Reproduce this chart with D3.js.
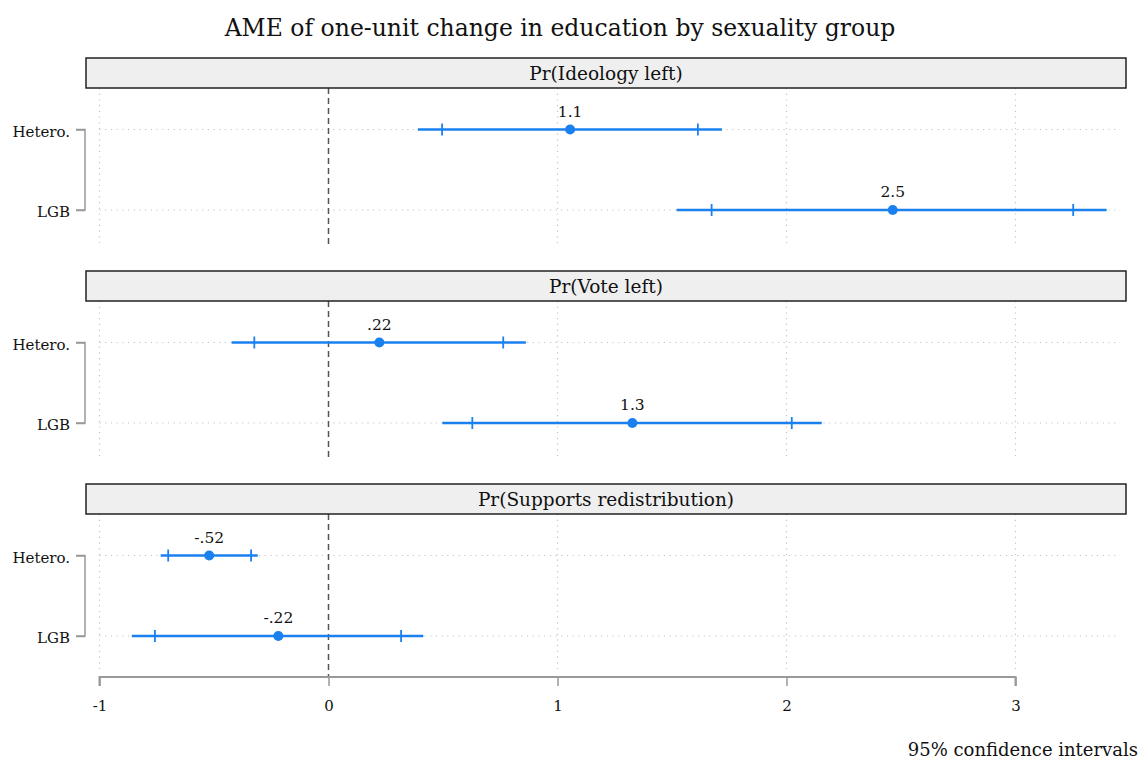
<!DOCTYPE html>
<html>
<head>
<meta charset="utf-8">
<script src="https://cdn.jsdelivr.net/npm/d3@7"></script>
<style>
  html, body { margin: 0; padding: 0; background: #fff; }
  svg { display: block; font-family: "DejaVu Serif", serif; }
</style>
</head>
<body>
<svg id="chart" width="1142" height="760"></svg>
<script>
// Average marginal effects of education, by outcome and sexuality group
const outcomes = ["Pr(Ideology left)", "Pr(Vote left)", "Pr(Supports redistribution)"];
const groups = ["Hetero.", "LGB"];
const estimates = [[1.055, 2.464], [0.222, 1.327], [-0.521, -0.219]];
const ci95Lo = [[0.390, 1.520], [-0.423, 0.497], [-0.733, -0.859]];
const ci95Hi = [[1.718, 3.398], [0.862, 2.154], [-0.309, 0.414]];
const ci90Lo = [[0.496, 1.673], [-0.324, 0.628], [-0.700, -0.758]];
const ci90Hi = [[1.613, 3.252], [0.763, 2.023], [-0.338, 0.317]];
const xTicks = [-1, 0, 1, 2, 3];

const title = "AME of one-unit change in education by sexuality group";
const note = "95% confidence intervals";

const blue = "#1a80f0";
const svg = d3.select("#chart");

const x = d3.scaleLinear().domain([-1, 3]).range([99.5, 1015.5]);

// plain hyphen-minus for negative numbers
const locale = d3.formatLocale({ decimal: ".", thousands: ",", grouping: [3], currency: ["", ""], minus: "-" });
// Stata-style number label: two significant digits, no leading zero
const fmt = v => locale.format(".2r")(v).replace(/^(-?)0\./, "$1.");

svg.append("text")
  .attr("x", 560).attr("y", 36)
  .attr("text-anchor", "middle")
  .attr("font-size", 23.5)
  .attr("fill", "#111")
  .text(title);

const panelTop = 58, panelStep = 213, stripH = 30;
const stripX0 = 86, stripX1 = 1126;
const plotH = 157;

outcomes.forEach((name, i) => {
  const top = panelTop + panelStep * i;
  const g = svg.append("g");
  const y = d3.scalePoint().domain(groups).range([top + 71.5, top + 152]);
  const plotTop = top + stripH;
  const plotBottom = top + stripH + plotH;
  const last = i === outcomes.length - 1;

  // vertical grid
  xTicks.filter(t => t !== 0).forEach(t => {
    g.append("line")
      .attr("x1", x(t)).attr("x2", x(t))
      .attr("y1", plotTop).attr("y2", plotBottom - 1)
      .attr("stroke", "#c4c4c4").attr("stroke-width", 1.2)
      .attr("stroke-dasharray", "1.2,4.5");
  });

  // horizontal grid at each group row
  groups.forEach(gr => {
    g.append("line")
      .attr("x1", x(-1)).attr("x2", 1120)
      .attr("y1", y(gr)).attr("y2", y(gr))
      .attr("stroke", "#c4c4c4").attr("stroke-width", 1.2)
      .attr("stroke-dasharray", "1.2,4.5");
  });

  // reference line at zero
  g.append("line")
    .attr("x1", x(0)).attr("x2", x(0))
    .attr("y1", plotTop).attr("y2", last ? 677 : plotBottom)
    .attr("stroke", "#555").attr("stroke-width", 1.5)
    .attr("stroke-dasharray", "6,4");

  // strip header
  g.append("rect")
    .attr("x", stripX0).attr("y", top)
    .attr("width", stripX1 - stripX0).attr("height", stripH)
    .attr("fill", "#efefef").attr("stroke", "#222").attr("stroke-width", 1.5);
  g.append("text")
    .attr("x", (stripX0 + stripX1) / 2).attr("y", top + 21.5)
    .attr("text-anchor", "middle")
    .attr("font-size", 18.5).attr("fill", "#111")
    .text(name);

  // y axis bracket
  const yAxis = d3.axisLeft(y).tickSize(9).tickPadding(6);
  const ya = g.append("g").attr("transform", `translate(85,0)`).call(yAxis);
  ya.select(".domain").attr("stroke", "#999").attr("stroke-width", 1.5)
    .attr("d", `M-9,${y(groups[0])}H0V${y(groups[1])}H-9`);
  ya.selectAll(".tick line").attr("stroke", "#999").attr("stroke-width", 1.5);
  ya.selectAll(".tick text")
    .attr("font-family", "DejaVu Serif, serif")
    .attr("font-size", 15).attr("fill", "#111")
    .attr("dy", "0.45em");

  // intervals, caps and point estimates
  groups.forEach((gr, j) => {
    const cy = y(gr);
    g.append("line")
      .attr("x1", x(ci95Lo[i][j])).attr("x2", x(ci95Hi[i][j]))
      .attr("y1", cy).attr("y2", cy)
      .attr("stroke", blue).attr("stroke-width", 2.6);
    [ci90Lo[i][j], ci90Hi[i][j]].forEach(v => {
      g.append("line")
        .attr("x1", x(v)).attr("x2", x(v))
        .attr("y1", cy - 6).attr("y2", cy + 6)
        .attr("stroke", blue).attr("stroke-width", 1.8);
    });
    g.append("circle")
      .attr("cx", x(estimates[i][j])).attr("cy", cy).attr("r", 5)
      .attr("fill", blue);
    g.append("text")
      .attr("x", x(estimates[i][j])).attr("y", cy - 13)
      .attr("text-anchor", "middle")
      .attr("font-size", 15.5).attr("fill", "#111")
      .text(fmt(estimates[i][j]));
  });
});

// bottom x axis
const xAxis = d3.axisBottom(x).tickValues(xTicks).tickSize(9).tickPadding(14)
  .tickFormat(locale.format("d"));
const xa = svg.append("g").attr("transform", "translate(0,677)").call(xAxis);
xa.select(".domain").attr("stroke", "#999").attr("stroke-width", 2)
  .attr("d", `M${x(-1)},9V0H${x(3)}V9`);
xa.selectAll(".tick line").attr("stroke", "#999").attr("stroke-width", 1.5);
xa.selectAll(".tick text")
  .attr("font-family", "DejaVu Serif, serif")
  .attr("font-size", 15).attr("fill", "#111");

svg.append("text")
  .attr("x", 1138).attr("y", 756)
  .attr("text-anchor", "end")
  .attr("font-size", 18).attr("fill", "#111")
  .text(note);
</script>
</body>
</html>
